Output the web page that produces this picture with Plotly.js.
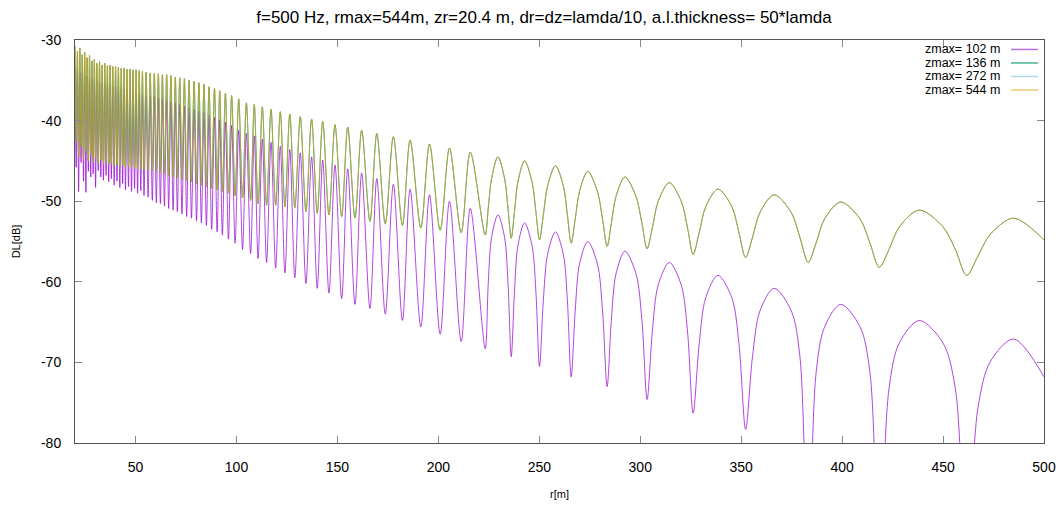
<!DOCTYPE html>
<html>
<head>
<meta charset="utf-8">
<script src="https://cdn.plot.ly/plotly-3.0.1.min.js"></script>
<style>html,body{margin:0;padding:0;background:#fff}#chart{width:1060px;height:506px}</style>
</head>
<body>
<div id="chart"></div>
<script>
// Series names (legend)
const seriesNames = ["zmax= 102 m", "zmax= 136 m", "zmax= 272 m", "zmax= 544 m"];
const seriesColors = ["#9400d3", "#009e73", "#56b4e9", "#e69f00"];
const legendColors = ["rgb(185,110,232)", "rgb(70,180,140)", "rgb(170,215,235)", "rgb(240,200,120)"];

// ticks
const xTicks = [50, 100, 150, 200, 250, 300, 350, 400, 450, 500];
const yTicks = [-80, -70, -60, -50, -40, -30];

// zmax = 102 m : range r [m] and DL [dB] (peaks / nulls / shoulders)
const rLow = [
 20.0,20.6,21.2,21.8,22.4,23.0,23.6,24.2,24.8,25.4,26.0,26.6,27.2,27.8,28.4,29.0,29.6,30.2,30.85,31.5,
 32.15,32.8,33.45,34.1,34.75,35.4,36.05,36.7,37.35,38.0,38.7,39.4,40.1,40.8,41.5,42.2,42.9,43.6,44.3,45.0,
 45.75,46.5,47.25,48.0,48.75,49.5,50.25,51.0,51.8,52.6,53.4,54.2,55.2,56.2,57.25,58.3,
 59.3,60.3,61.3,62.3,63.3,64.3,65.4,66.4,67.5,68.6,69.7,70.7,71.9,73.0,74.2,75.3,76.5,77.7,79.0,80.2,
 81.4,82.6,83.9,85.1,86.4,87.7,89.1,90.4,91.7,93.0,94.5,96.0,97.6,99.3,101.1,103.0,
 104.9,107.0,108.8,110.7,112.8,114.9,117.1,119.4,121.7,124.0,126.4,128.9,131.6,134.4,137.2,140.0,
 142.7,145.8,148.8,152.1,155.1,158.7,162.0,166.1,169.5,173.7,177.7,182.2,186.0,191.3,195.6,200.9,
 205.5,211.3,215.8,223.2,
 224.7,226.35,229.5,232.8,234.5,236.1,
 237.7,239.4,242.7,246.4,248.3,250.1,
 252.0,254.1,258.0,261.9,263.9,265.8,
 267.8,269.9,274.0,278.8,281.3,283.6,
 285.7,288.0,292.4,297.9,300.8,303.4,
 306.0,308.9,314.4,320.3,323.4,326.2,
 329.2,332.4,338.5,345.4,348.9,352.2,
 355.6,359.3,366.3,374.8,379.1,383.2,
 387.1,391.3,399.3,408.9,413.8,418.4,
 423.2,428.3,438.2,450.0,456.1,461.7,
 467.3,473.4,485.0,500.0
];
const dlLow = [
 -33.5,-45.8,-33.8,-48.8,-34.0,-45.2,-34.2,-47.5,-34.4,-48.9,-34.5,-46.3,-34.7,-47.0,-34.8,-46.6,-35.0,-48.3,-35.1,-46.2,
 -35.2,-47.0,-35.3,-47.4,-35.4,-46.8,-35.5,-47.6,-35.6,-47.2,-35.7,-48.0,-35.8,-47.5,-35.9,-48.3,-36.0,-47.8,-36.1,-48.6,
 -36.2,-48.2,-36.3,-48.8,-36.4,-48.4,-36.5,-49.0,-36.6,-48.7,-36.7,-49.3,-36.8,-49.5,-36.9,-49.9,
 -37.0,-50.2,-37.2,-50.3,-37.3,-50.6,-37.5,-50.9,-37.6,-51.1,-37.8,-51.3,-38.0,-51.6,-38.2,-51.9,-38.4,-52.1,-38.6,-52.4,
 -38.8,-52.7,-39.0,-53.0,-39.3,-53.5,-39.6,-53.8,-39.9,-54.2,-40.2,-54.7,-40.6,-55.2,-41.2,-56.0,
 -41.6,-56.5,-41.9,-57.1,-42.3,-57.6,-42.7,-58.3,-43.2,-58.9,-43.6,-59.5,-44.0,-60.2,-44.5,-60.8,
 -44.9,-61.4,-45.5,-62.1,-46.0,-62.8,-46.5,-63.3,-47.2,-64.0,-47.9,-64.8,-48.5,-65.6,-49.2,-66.5,
 -50.0,-67.4,-50.9,-68.3,
 -60.2,-54.5,-51.7,-54.5,-60.2,-69.3,
 -61.2,-55.5,-52.7,-55.5,-61.2,-70.5,
 -62.3,-56.6,-53.8,-56.6,-62.3,-71.8,
 -63.5,-57.8,-55.0,-57.8,-63.5,-73.0,
 -64.7,-59.0,-56.2,-59.0,-64.7,-74.6,
 -66.1,-60.4,-57.6,-60.4,-66.1,-76.3,
 -67.7,-62.0,-59.2,-62.0,-67.7,-78.3,
 -69.3,-63.6,-60.8,-63.6,-69.3,-95.0,
 -71.3,-65.6,-62.8,-65.6,-71.3,-95.0,
 -73.3,-67.6,-64.8,-67.6,-73.3,-95.0,
 -75.6,-69.9,-67.1,-71.8
];

// zmax = 136 / 272 / 544 m : these three curves coincide at this scale
const rHigh = [
 20.0,20.6,21.2,21.8,22.4,23.0,23.6,24.2,24.8,25.4,26.0,26.6,27.2,27.8,28.4,29.0,29.6,30.2,30.85,31.5,
 32.15,32.8,33.45,34.1,34.75,35.4,36.05,36.7,37.35,38.0,38.7,39.4,40.1,40.8,41.5,42.2,42.9,43.6,44.3,45.0,
 45.75,46.5,47.25,48.0,48.75,49.5,50.25,51.0,51.8,52.6,53.4,54.2,55.2,56.2,57.25,58.3,
 59.3,60.3,61.3,62.3,63.3,64.3,65.4,66.4,67.5,68.6,69.7,70.7,71.9,73.0,74.2,75.3,76.5,77.7,79.0,80.2,
 81.4,82.6,83.9,85.1,86.4,87.7,89.1,90.4,91.7,93.0,94.5,96.0,97.6,99.3,101.1,103.0,
 104.9,107.0,108.8,110.7,112.8,114.9,117.1,119.4,121.7,124.0,126.4,128.9,131.6,134.4,137.2,140.0,
 142.7,145.8,148.8,152.1,155.1,158.7,162.0,166.1,169.5,173.7,177.7,182.2,186.0,191.3,195.6,200.9,
 205.5,211.3,215.8,223.2,
 224.7,226.35,229.5,232.8,234.5,236.1,
 237.7,239.4,242.7,246.4,248.3,250.1,
 252.0,254.1,258.0,261.9,263.9,265.8,
 267.8,269.9,274.0,278.8,281.3,283.6,
 285.7,288.0,292.4,297.9,300.8,303.4,
 306.0,308.9,314.4,320.3,323.4,326.2,
 329.2,332.4,338.5,345.4,348.9,352.2,
 355.6,359.3,366.3,374.8,379.1,383.2,
 387.1,391.3,399.3,408.9,413.8,418.4,
 423.2,428.3,438.2,450.0,456.1,461.7,
 467.3,473.4,485.0,500.0
];
const dlHigh = [
 -30.8,-42.5,-31.4,-44.5,-31.0,-43.2,-31.8,-44.8,-31.5,-43.8,-32.2,-45.0,-31.9,-44.2,-32.6,-45.2,-32.4,-44.6,-32.9,-45.3,
 -32.7,-44.9,-33.1,-45.4,-32.9,-45.1,-33.2,-45.5,-33.1,-45.3,-33.3,-45.6,-33.3,-45.4,-33.4,-45.7,-33.5,-45.6,-33.5,-45.8,
 -33.6,-45.7,-33.6,-45.9,-33.7,-45.9,-33.7,-46.0,-33.8,-46.0,-33.9,-46.1,-34.0,-46.1,-34.1,-46.2,
 -34.1,-46.3,-34.2,-46.5,-34.3,-46.6,-34.3,-46.8,-34.4,-47.0,-34.6,-47.1,-34.7,-47.3,-34.8,-47.5,-35.0,-47.6,-35.1,-47.8,
 -35.3,-48.0,-35.5,-48.2,-35.8,-48.4,-36.0,-48.6,-36.3,-48.8,-36.6,-49.0,-36.9,-49.3,-37.3,-49.6,
 -37.8,-49.9,-38.0,-50.3,-38.3,-50.5,-38.6,-50.5,-38.9,-50.7,-39.2,-50.8,-39.5,-51.3,-39.8,-51.5,
 -40.1,-51.7,-40.5,-51.9,-40.8,-52.1,-41.2,-52.5,-41.6,-52.8,-42.0,-53.0,-42.4,-53.3,-42.9,-53.6,
 -43.4,-53.9,-43.9,-54.2,
 -50.9,-47.2,-44.5,-47.2,-50.9,-54.6,
 -51.3,-47.6,-45.0,-47.6,-51.3,-54.8,
 -51.7,-48.1,-45.6,-48.1,-51.7,-55.2,
 -52.2,-48.8,-46.3,-48.8,-52.2,-55.6,
 -52.7,-49.4,-47.0,-49.4,-52.7,-55.9,
 -53.3,-50.0,-47.7,-50.0,-53.3,-56.6,
 -53.9,-50.7,-48.5,-50.7,-53.9,-57.0,
 -54.5,-51.4,-49.2,-51.4,-54.5,-57.6,
 -55.2,-52.2,-50.1,-52.2,-55.2,-58.2,
 -56.0,-53.2,-51.1,-53.2,-56.0,-59.2,
 -56.8,-54.1,-52.1,-54.8
];

const seriesX = [rLow, rHigh, rHigh, rHigh];
const seriesY = [dlLow, dlHigh, dlHigh, dlHigh];
const seriesOpacity = [0.72, 0.8, 0.3, 0.65];

const traces = seriesNames.map((name, i) => ({
  type: 'scatter', mode: 'lines', name: name,
  x: seriesX[i], y: seriesY[i],
  line: {color: seriesColors[i], width: 1, shape: 'spline', smoothing: 0.9},
  opacity: seriesOpacity[i],
  showlegend: false, hoverinfo: 'skip'
}));

const FONT = 'Liberation Sans, Arial, sans-serif';

// hand-built legend (gnuplot style: text, then sample line to its right)
const legendY = [0.9765, 0.9430, 0.9095, 0.8760];
const annotations = seriesNames.map((name, i) => ({
  xref: 'paper', yref: 'paper', x: 0.9556, y: legendY[i],
  xanchor: 'right', yanchor: 'middle', showarrow: false, text: name,
  borderpad: 0,
  font: {family: FONT, size: 12.5, color: '#000'}
}));
const shapes = seriesNames.map((name, i) => ({
  type: 'line', xref: 'paper', yref: 'paper',
  x0: 0.9659, x1: 0.9938, y0: legendY[i], y1: legendY[i],
  line: {color: legendColors[i], width: 1.5}
}));

const tickFont = {family: FONT, size: 14, color: '#000'};
const layout = {
  width: 1060, height: 506,
  margin: {l: 75, r: 16, t: 40, b: 63},
  paper_bgcolor: '#fff', plot_bgcolor: '#fff',
  font: tickFont,
  title: {text: 'f=500 Hz, rmax=544m, zr=20.4 m, dr=dz=lamda/10, a.l.thickness= 50*lamda',
          font: {family: FONT, size: 17, color: '#000'},
          x: 0.5132, xref: 'container', xanchor: 'center', y: 0.966, yref: 'container', yanchor: 'middle'},
  xaxis: {range: [20, 500], tickvals: xTicks, ticktext: xTicks.map(String),
          ticks: 'inside', ticklen: 7, tickcolor: '#888', tickwidth: 1,
          showline: true, linecolor: '#555', linewidth: 1, mirror: 'ticks',
          showgrid: false, zeroline: false, tickfont: tickFont, ticklabelstandoff: 11,
          title: {text: 'r[m]', font: {family: FONT, size: 11, color: '#000'}, standoff: 16}},
  yaxis: {range: [-80, -30], tickvals: yTicks, ticktext: yTicks.map(String),
          ticks: 'inside', ticklen: 7, tickcolor: '#888', tickwidth: 1,
          showline: true, linecolor: '#555', linewidth: 1, mirror: 'ticks',
          showgrid: false, zeroline: false, tickfont: tickFont, ticklabelstandoff: 10,
          title: {text: 'DL[dB]', font: {family: FONT, size: 11, color: '#000'}, standoff: 18}},
  annotations: annotations,
  shapes: shapes,
  showlegend: false,
  hovermode: false
};

Plotly.newPlot('chart', traces, layout, {staticPlot: true, displayModeBar: false});
</script>
</body>
</html>
